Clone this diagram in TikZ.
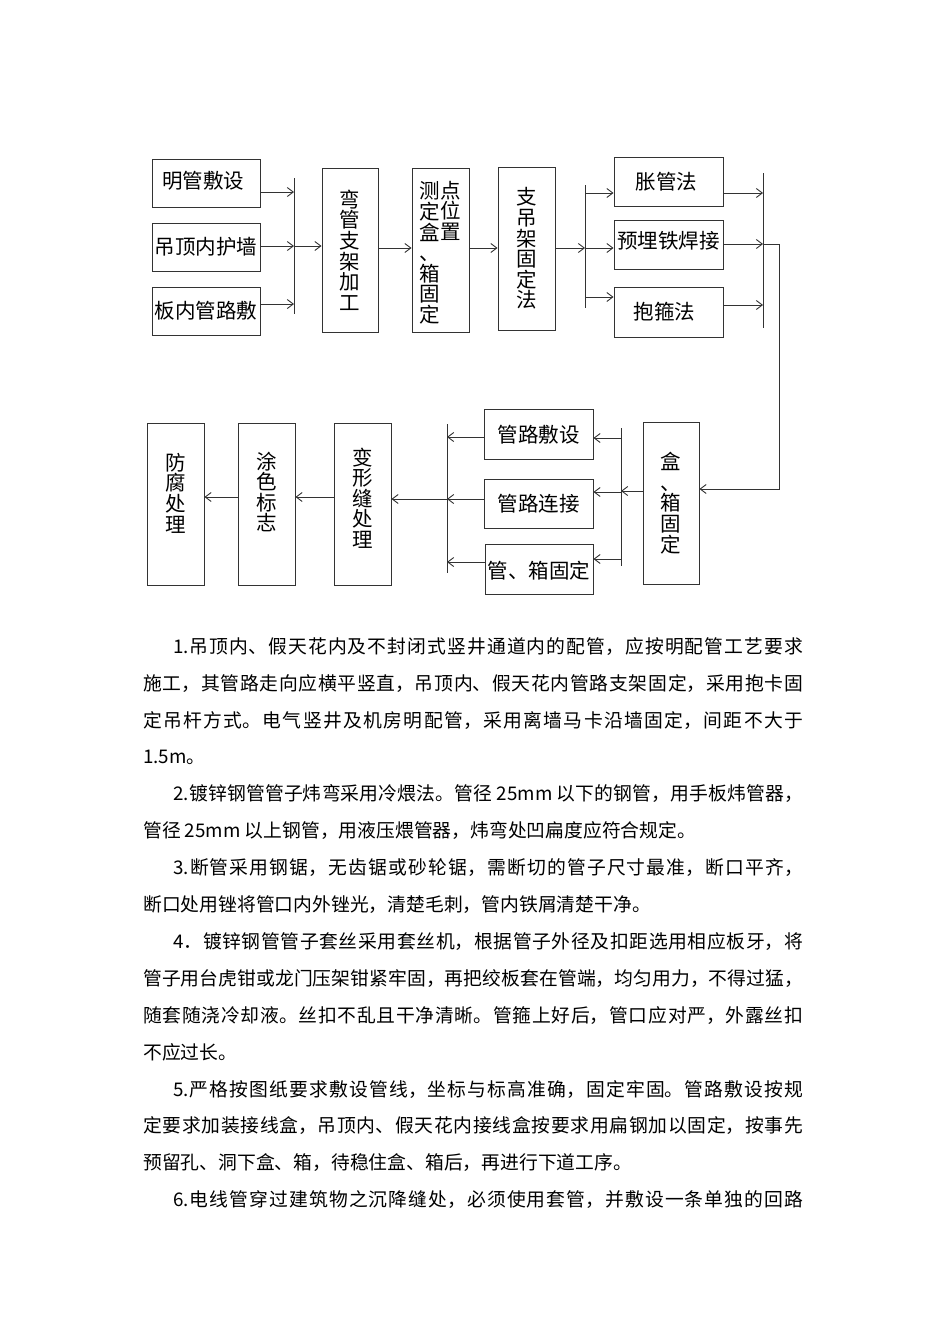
\documentclass[tikz,border=0pt]{standalone}
\usepackage{fontspec}
\setmainfont{Noto Sans CJK SC}
\usetikzlibrary{arrows.meta}
\XeTeXlinebreaklocale "zh"
\XeTeXlinebreakskip=0pt plus 4pt
\definecolor{lc}{HTML}{333333}
\tikzset{
  ln/.style={draw=lc, line width=0.9pt},
  arr/.style={ln, -{Straight Barb[length=6pt,width=9pt]}},
  hbx/.style={draw=lc, line width=0.9pt, inner sep=0pt, minimum width=109pt, minimum height=49pt},
  vbx/.style={draw=lc, line width=0.9pt, inner sep=0pt, minimum width=57pt, minimum height=163pt},
  btxt/.style={font=\fontsize{20.5}{20.6}\selectfont, align=center, inner sep=0pt, text=black},
}
\begin{document}
\begin{tikzpicture}[x=1pt,y=-1pt]
\useasboundingbox (0,0) rectangle (950,1344);
\fill[white] (0,0) rectangle (950,1344);

% top row boxes
\node[hbx, minimum width=108pt, minimum height=48pt, label={[btxt,xshift=-3pt,yshift=2pt]center:明管敷设}] (b1) at (206,183) {};
\node[hbx, minimum width=108pt, minimum height=48pt, label={[btxt]center:吊顶内护墙}] (b2) at (206,247) {};
\node[hbx, minimum width=108pt, minimum height=48pt, label={[btxt]center:板内管路敷}] (b3) at (206,311) {};
\node[vbx, minimum width=56pt, minimum height=164pt, label={[btxt]center:弯\\管\\支\\架\\加\\工}] (b4) at (350,250) {};
\node[vbx, minimum height=164pt,
  label={[btxt,xshift=-11pt,yshift=-3pt]center:测\\定\\盒\\、\\箱\\固\\定},
  label={[btxt,xshift=10pt,yshift=39.5pt]center:点\\位\\置}] (b5) at (440.5,250) {};
\node[vbx, label={[btxt]center:支\\吊\\架\\固\\定\\法}] (b6) at (526.5,248.5) {};
\node[hbx, label={[btxt,xshift=-2pt]center:胀管法}] (b7) at (668.5,181.5) {};
\node[hbx, label={[btxt,yshift=4pt]center:预埋铁焊接}] (b8) at (668.5,244.5) {};
\node[hbx, minimum height=50pt, label={[btxt,xshift=-4pt]center:抱箍法}] (b9) at (668.5,312) {};

% bottom row boxes
\node[vbx, minimum width=56pt, minimum height=162pt, label={[btxt]center:盒\\、\\箱\\固\\定}] (b10) at (671,503) {};
\node[hbx, minimum height=50pt, label={[btxt,yshift=-1pt]center:管路敷设}] (b11) at (538.5,434) {};
\node[hbx, label={[btxt]center:管路连接}] (b12) at (538.5,503.5) {};
\node[hbx, minimum width=108pt, minimum height=50pt, label={[btxt,yshift=-2pt]center:管、箱固定}] (b13) at (539,569) {};
\node[vbx, minimum height=162pt, label={[btxt,yshift=6pt]center:变\\形\\缝\\处\\理}] (b14) at (362.5,504) {};
\node[vbx, minimum height=162pt, label={[btxt,yshift=12pt]center:涂\\色\\标\\志}] (b15) at (266.5,504) {};
\node[vbx, minimum height=162pt, label={[btxt,yshift=11pt]center:防\\腐\\处\\理}] (b16) at (175.5,504) {};

% bars
\coordinate (barLt) at (294,178); \coordinate (barLb) at (294,314);
\coordinate (barMt) at (585,185); \coordinate (barMb) at (585,308);
\coordinate (barRt) at (763,173); \coordinate (barRb) at (763,328);
\coordinate (barBt) at (621,428); \coordinate (barBb) at (621,566);
\coordinate (barCt) at (447,424); \coordinate (barCb) at (447,573);
\draw[ln] (barLt) -- (barLb);
\draw[ln] (barMt) -- (barMb);
\draw[ln] (barRt) -- (barRb);
\draw[ln] (barBt) -- (barBb);
\draw[ln] (barCt) -- (barCb);

% top connectors
\draw[arr] (b1.east |- 0,192) -- (barLt |- 0,192);
\draw[arr] (b2.east |- 0,246) -- (barLt |- 0,246);
\draw[arr] (b3.east |- 0,304) -- (barLt |- 0,304);
\draw[arr] (barLt |- 0,246) -- (b4.west |- 0,246);
\draw[arr] (b4.east |- 0,248) -- (b5.west |- 0,248);
\draw[arr] (b5.east |- 0,248) -- (b6.west |- 0,248);
\draw[arr] (b6.east |- 0,248) -- (barMt |- 0,248);
\draw[arr] (barMt |- 0,193) -- (b7.west |- 0,193);
\draw[arr] (barMt |- 0,248) -- (b8.west |- 0,248);
\draw[arr] (barMt |- 0,297) -- (b9.west |- 0,297);
\draw[arr] (b7.east |- 0,193) -- (barRt |- 0,193);
\draw[arr] (b8.east |- 0,244) -- (barRt |- 0,244);
\draw[arr] (b9.east |- 0,305) -- (barRt |- 0,305);

% link down
\coordinate (c1) at (779,244);
\coordinate (c2) at (779,489);
\draw[arr] (barRt |- c1) -- (c1) -- (c2) -- (b10.east |- c2);

% bottom connectors
\draw[arr] (b10.west |- 0,491) -- (barBt |- 0,491);
\draw[arr] (barBt |- 0,438) -- (b11.east |- 0,438);
\draw[arr] (barBt |- 0,492) -- (b12.east |- 0,492);
\draw[arr] (barBt |- 0,559) -- (b13.east |- 0,559);
\draw[arr] (b11.west |- 0,437) -- (barCt |- 0,437);
\draw[arr] (b12.west |- 0,499) -- (barCt |- 0,499);
\draw[arr] (b13.west |- 0,562) -- (barCt |- 0,562);
\draw[arr] (barCt |- 0,499) -- (b14.east |- 0,499);
\draw[arr] (b14.west |- 0,497) -- (b15.east |- 0,497);
\draw[arr] (b15.west |- 0,497) -- (b16.east |- 0,497);

% body text
\node[anchor=north west, inner sep=0pt, text width=660pt, align=justify,
      font=\fontsize{18.8}{36.9}\selectfont] (body) at (143,633) {%
\parindent=0pt\parskip=0pt\rule{0pt}{20pt}\hspace*{30pt}1.吊顶内、假天花内及不封闭式竖井通道内的配管，应按明配管工艺要求\linebreak
施工，其管路走向应横平竖直，吊顶内、假天花内管路支架固定，采用抱卡固\linebreak
定吊杆方式。电气竖井及机房明配管，采用离墙马卡沿墙固定，间距不大于\linebreak
1.5m。\par
\hspace*{30pt}2.镀锌钢管管子炜弯采用冷煨法。管径 25mm 以下的钢管，用手板炜管器，\linebreak
管径 25mm 以上钢管，用液压煨管器，炜弯处凹扁度应符合规定。\par
\hspace*{30pt}3.断管采用钢锯，无齿锯或砂轮锯，需断切的管子尺寸最准，断口平齐，\linebreak
断口处用锉将管口内外锉光，清楚毛刺，管内铁屑清楚干净。\par
\hspace*{30pt}4．镀锌钢管管子套丝采用套丝机，根据管子外径及扣距选用相应板牙，将\linebreak
管子用台虎钳或龙门压架钳紧牢固，再把绞板套在管端，均匀用力，不得过猛，\linebreak
随套随浇冷却液。丝扣不乱且干净清晰。管箍上好后，管口应对严，外露丝扣\linebreak
不应过长。\par
\hspace*{30pt}5.严格按图纸要求敷设管线，坐标与标高准确，固定牢固。管路敷设按规\linebreak
定要求加装接线盒，吊顶内、假天花内接线盒按要求用扁钢加以固定，按事先\linebreak
预留孔、洞下盒、箱，待稳住盒、箱后，再进行下道工序。\par
\hspace*{30pt}6.电线管穿过建筑物之沉降缝处，必须使用套管，并敷设一条单独的回路\parfillskip=0pt\par
};
\end{tikzpicture}
\end{document}
